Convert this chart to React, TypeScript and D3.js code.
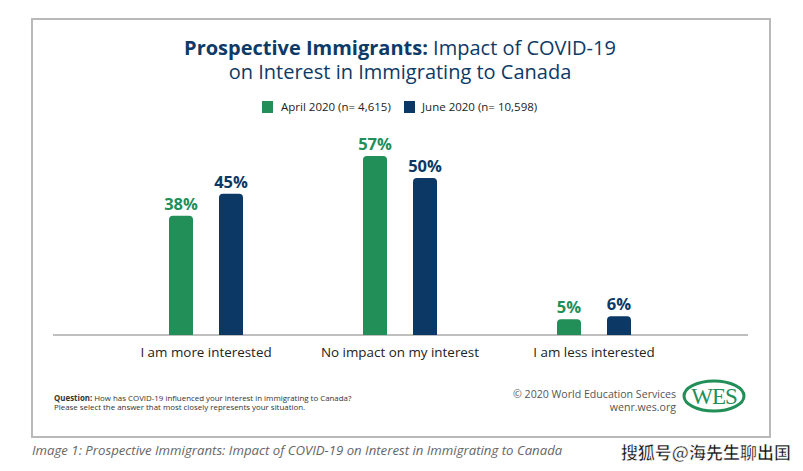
import React from "react";
import * as d3 from "d3";

const categories = ["I am more interested", "No impact on my interest", "I am less interested"];
const seriesNames = ["April 2020 (n= 4,615)", "June 2020 (n= 10,598)"];
const april = [38, 57, 5];
const june = [45, 50, 6];
const colors = ["#218f57", "#0b3864"];

const W = 803;
const H = 471;

function topRounded(x: number, y: number, w: number, h: number, r: number) {
  const rr = Math.min(r, h, w / 2);
  const p = d3.path();
  p.moveTo(x, y + h);
  p.lineTo(x, y + rr);
  p.arcTo(x, y, x + rr, y, rr);
  p.lineTo(x + w - rr, y);
  p.arcTo(x + w, y, x + w, y + rr, rr);
  p.lineTo(x + w, y + h);
  p.closePath();
  return p.toString();
}

export default function App() {
  const x0 = d3.scaleBand<string>().domain(categories).range([109, 691]).padding(0);
  const x1 = d3.scaleBand<number>().domain([0, 1]).range([-37, 37]).paddingInner(0.52).paddingOuter(0);
  const y = d3.scaleLinear().domain([0, 57]).range([335, 156]);
  const series = [april, june];
  const font = "'Open Sans', 'Noto Sans', sans-serif";
  return (
    <svg width={W} height={H} style={{ position: "absolute", left: 0, top: 0, background: "#fff" }}>
      <rect x={0} y={0} width={W} height={H} fill="#fff" />
      <rect x={32} y={19} width={738} height={418} fill="#fff" stroke="#b9b9b9" strokeWidth={2} />
      <text x={400} y={55} textAnchor="middle" fontFamily={font} fontSize={20} fill="#0d3a66">
        <tspan fontWeight={700}>Prospective Immigrants:</tspan>
        <tspan fontWeight={400}> Impact of COVID-19</tspan>
      </text>
      <text x={400} y={79} textAnchor="middle" fontFamily={font} fontSize={20} fill="#0d3a66">
        on Interest in Immigrating to Canada
      </text>
      <g fontFamily={font} fontSize={11.5} fill="#222">
        <rect x={262} y={101} width={11} height={12} fill={colors[0]} />
        <text x={281} y={111}>{seriesNames[0]}</text>
        <rect x={404} y={101} width={11} height={12} fill={colors[1]} />
        <text x={422} y={111}>{seriesNames[1]}</text>
      </g>
      <line x1={53} x2={748} y1={335} y2={335} stroke="#aaa" strokeWidth={1.5} />
      {categories.map((c, i) => {
        const cx = (x0(c) as number) + x0.bandwidth() / 2;
        return (
          <g key={c}>
            {series.map((s, j) => {
              const bx = cx + (x1(j) as number);
              const bw = x1.bandwidth();
              const top = y(s[i]);
              return (
                <g key={j}>
                  <path d={topRounded(bx, top, bw, y(0) - top, 4)} fill={colors[j]} />
                  <text x={bx + bw / 2} y={top - 6} textAnchor="middle" fontFamily={font} fontWeight={700} fontSize={16.5} fill={colors[j]}>
                    {s[i]}%
                  </text>
                </g>
              );
            })}
            <text x={cx} y={357} textAnchor="middle" fontFamily={font} fontSize={13.4} fill="#222">{c}</text>
          </g>
        );
      })}
      <g fontFamily={font} fontSize={7.9} fill="#333">
        <text x={54} y={401}>
          <tspan fontWeight={700}>Question:</tspan> How has COVID-19 influenced your interest in immigrating to Canada?
        </text>
        <text x={54} y={410}>Please select the answer that most closely represents your situation.</text>
      </g>
      <g fontFamily={font} fontSize={10.6} fill="#555" textAnchor="end">
        <text x={676} y={398}>© 2020 World Education Services</text>
        <text x={676} y={411}>wenr.wes.org</text>
      </g>
      <ellipse cx={714} cy={396} rx={30} ry={15} fill="none" stroke="#218f57" strokeWidth={3} />
      <text x={714} y={404} textAnchor="middle" fontFamily="'Liberation Serif', serif" fontSize={23} fill="#218f57" letterSpacing={-1}>WES</text>
      <text x={32} y={455} fontFamily={font} fontStyle="italic" fontSize={13.2} fill="#666">
        Image 1: Prospective Immigrants: Impact of COVID-19 on Interest in Immigrating to Canada
      </text>
      <text x={791} y={459} textAnchor="end" fontFamily="'Noto Sans CJK SC', sans-serif" fontWeight={700} fontSize={17} fill="#111" stroke="#fff" strokeWidth={0.6}>
        搜狐号@海先生聊出国
      </text>
    </svg>
  );
}
